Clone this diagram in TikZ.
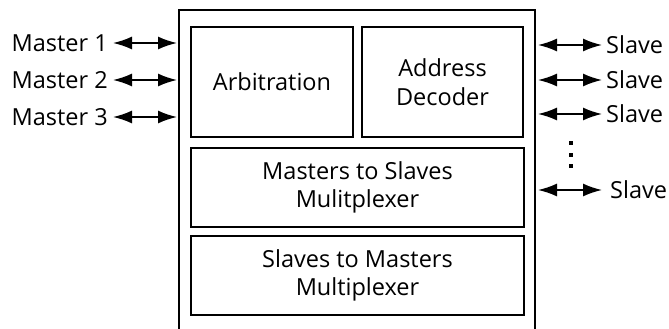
\documentclass[tikz,border=0pt]{standalone}
\usepackage{fontspec}
\setmainfont{Open Sans}
\usetikzlibrary{arrows.meta}
\tikzset{
	blk/.style={draw, line width=1.6pt, align=center, inner sep=0pt},
	lnk/.style={{Latex[length=19pt,width=13pt]}-{Latex[length=19pt,width=13pt]}, line width=1.7pt},
	lbl/.style={inner sep=0pt}
}
\begin{document}
\begin{tikzpicture}[x=1pt, y=1pt, font=\fontsize{23.5}{28.5}\selectfont]
			%%%%% START %%%%%
			\useasboundingbox (0,-329) rectangle (669,0);
			
			% outer frame
			\draw[line width=1.6pt] (179,-329) -- (179,-10) -- (535,-10) -- (535,-329);
			
			% inner blocks
			\node[blk, minimum width=162, minimum height=110] (arb) at (272,-82) {Arbitration};
			\node[blk, minimum width=161, minimum height=110] (dec) at (442.5,-82) {Address\\Decoder};
			\node[blk, minimum width=333, minimum height=79] (mts) at (357.5,-187.5) {Masters to Slaves\\Mulitplexer};
			\node[blk, minimum width=333, minimum height=79] (stm) at (357.5,-275.5) {Slaves to Masters\\Multiplexer};
			
			% masters
			\node[lbl, anchor=east] (m1) at (108,-43) {Master 1};
			\node[lbl, anchor=east] (m2) at (108,-80) {Master 2};
			\node[lbl, anchor=east] (m3) at (108,-117) {Master 3};
			\coordinate (p1) at (177,-43);
			\coordinate (p2) at (177,-80);
			\coordinate (p3) at (177,-117);
			\draw[lnk] ([xshift=5]m1.east) -- (p1);
			\draw[lnk] ([xshift=5]m2.east) -- (p2);
			\draw[lnk] ([xshift=5]m3.east) -- (p3);
			
			% slaves
			\node[lbl, anchor=west] (s1) at (606,-45) {Slave};
			\node[lbl, anchor=west] (s2) at (606,-80) {Slave};
			\node[lbl, anchor=west] (s3) at (606,-114) {Slave};
			\node[lbl, anchor=west] (s4) at (610,-190) {Slave};
			\coordinate (q1) at (538,-45);
			\coordinate (q2) at (538,-80);
			\coordinate (q3) at (538,-114);
			\coordinate (q4) at (538,-190);
			\draw[lnk] (q1) -- ([xshift=-4]s1.west);
			\draw[lnk] (q2) -- ([xshift=-4]s2.west);
			\draw[lnk] (q3) -- ([xshift=-4]s3.west);
			\draw[lnk] (q4) -- ([xshift=-8]s4.west);
			
			% dots
			\foreach \y in {143,154.5,166}
				\fill (569,-\y-2) rectangle ++(4,4);
			%%%%% END %%%%%
\end{tikzpicture}
\end{document}
